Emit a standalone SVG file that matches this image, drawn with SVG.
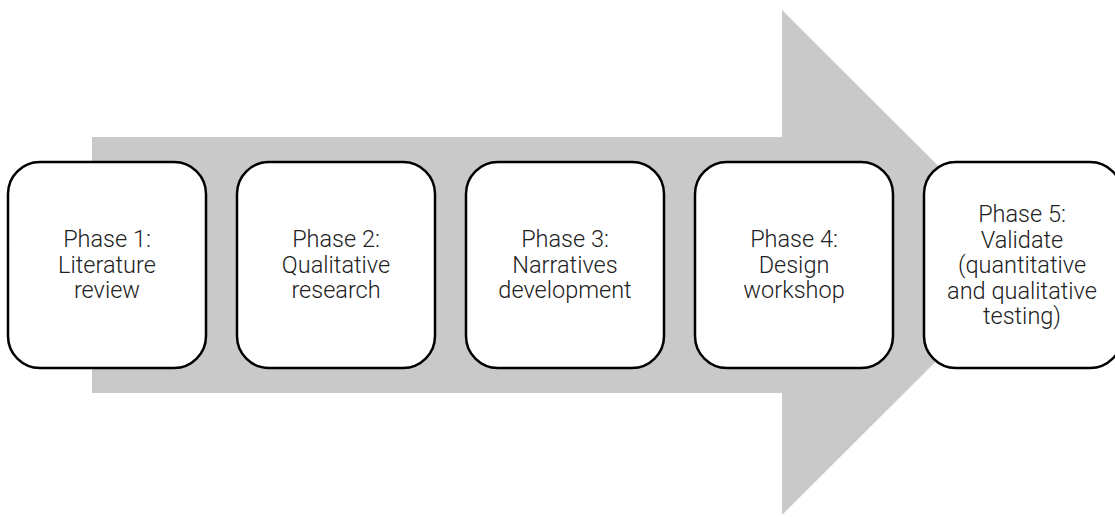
<svg xmlns="http://www.w3.org/2000/svg" width="1115" height="517" viewBox="0 0 1115 517">
  <style>
    .box { fill: #ffffff; stroke: #000000; stroke-width: 2.5; }
    .lbl { font-family: Roboto, "Liberation Sans", sans-serif; font-weight: 300; font-size: 23.5px; fill: #222222; text-anchor: middle; }
  </style>
  <!-- large block arrow behind the phases -->
  <g id="connectors">
    <polygon points="92,137 782,137 782,10 1035,262.5 782,515 782,393 92,393" fill="#c9c9c9"/>
  </g>
  <g id="phase1">
    <rect class="box" x="8" y="162" width="198" height="206" rx="32"/>
    <text class="lbl"><tspan x="107" y="247">Phase 1:</tspan><tspan x="107" y="272.5">Literature</tspan><tspan x="107" y="298">review</tspan></text>
  </g>
  <g id="phase2">
    <rect class="box" x="237" y="162" width="198" height="206" rx="32"/>
    <text class="lbl"><tspan x="336" y="247">Phase 2:</tspan><tspan x="336" y="272.5">Qualitative</tspan><tspan x="336" y="298">research</tspan></text>
  </g>
  <g id="phase3">
    <rect class="box" x="466" y="162" width="198" height="206" rx="32"/>
    <text class="lbl"><tspan x="565" y="247">Phase 3:</tspan><tspan x="565" y="272.5">Narratives</tspan><tspan x="565" y="298">development</tspan></text>
  </g>
  <g id="phase4">
    <rect class="box" x="695" y="162" width="198" height="206" rx="32"/>
    <text class="lbl"><tspan x="794" y="247">Phase 4:</tspan><tspan x="794" y="272.5">Design</tspan><tspan x="794" y="298">workshop</tspan></text>
  </g>
  <g id="phase5">
    <rect class="box" x="924" y="162" width="198" height="206" rx="32"/>
    <text class="lbl"><tspan x="1022" y="222">Phase 5:</tspan><tspan x="1022" y="247.5">Validate</tspan><tspan x="1022" y="273">(quantitative</tspan><tspan x="1022" y="298.5">and qualitative</tspan><tspan x="1022" y="324">testing)</tspan></text>
  </g>
</svg>
